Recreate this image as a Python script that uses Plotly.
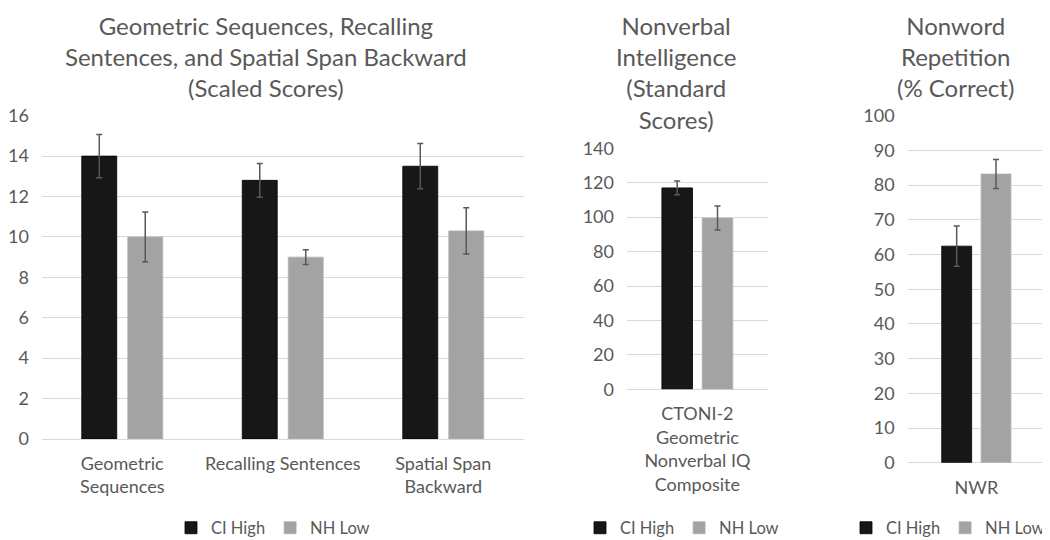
import plotly.graph_objects as go

# ---- data ----
groups = ["CI High", "NH Low"]

cats_scaled = ["Geometric<br>Sequences", "Recalling Sentences", "Spatial Span<br>Backward"]
ci_scaled = [14.0, 12.8, 13.5]
ci_scaled_err = [1.07, 0.83, 1.12]
nh_scaled = [10.0, 9.0, 10.3]
nh_scaled_err = [1.23, 0.37, 1.15]

cats_iq = ["CTONI-2<br>Geometric<br>Nonverbal IQ<br>Composite"]
ci_iq = [117.0]
ci_iq_err = [4.0]
nh_iq = [99.5]
nh_iq_err = [7.0]

cats_nwr = ["NWR"]
ci_nwr = [62.4]
ci_nwr_err = [5.8]
nh_nwr = [83.2]
nh_nwr_err = [4.2]

titles = [
    "Geometric Sequences, Recalling<br>Sentences, and Spatial Span Backward<br>(Scaled Scores)",
    "Nonverbal<br>Intelligence<br>(Standard<br>Scores)",
    "Nonword<br>Repetition<br>(% Correct)",
]

# ---- style ----
W, H = 1050, 540
OFF = 8  # page body margin in the browser
FONT = "Lato"
TXT = "#595959"
GRID = "#d9d9d9"
COL_CI = "#171717"
COL_NH = "#a3a3a3"

def px_x(p):
    return (p - OFF) / W

def px_y(p):
    return 1 - (p - OFF) / H

fig = go.Figure()

panels = [
    (cats_scaled, ci_scaled, ci_scaled_err, nh_scaled, nh_scaled_err, "x", "y", "legend"),
    (cats_iq, ci_iq, ci_iq_err, nh_iq, nh_iq_err, "x2", "y2", "legend2"),
    (cats_nwr, ci_nwr, ci_nwr_err, nh_nwr, nh_nwr_err, "x3", "y3", "legend3"),
]

for cats, ci, cie, nh, nhe, xa, ya, lg in panels:
    fig.add_trace(go.Bar(
        x=cats, y=ci, name=groups[0], xaxis=xa, yaxis=ya, legend=lg,
        marker=dict(color=COL_CI, line=dict(color="#000000", width=0.8)),
        error_y=dict(type="data", array=cie, color=TXT, thickness=1.5, width=3),
        hoverinfo="skip",
    ))
    fig.add_trace(go.Bar(
        x=cats, y=nh, name=groups[1], xaxis=xa, yaxis=ya, legend=lg,
        marker=dict(color=COL_NH, line=dict(color="#b3b3b3", width=0.8)),
        error_y=dict(type="data", array=nhe, color=TXT, thickness=1.5, width=3),
        hoverinfo="skip",
    ))

xtickfont = dict(family=FONT, size=18, color=TXT)
ytickfont = dict(family=FONT, size=18, color=TXT)

def xaxis(dom, anchor, n):
    return dict(domain=dom, anchor=anchor, type="category", range=[-0.5, n - 0.5],
                showgrid=False, showline=False, zeroline=False, ticks="",
                tickfont=xtickfont, ticklabelstandoff=12, fixedrange=True)

def yaxis(dom, anchor, rng, dt):
    return dict(domain=dom, anchor=anchor, range=rng, dtick=dt, showgrid=True,
                gridcolor=GRID, gridwidth=1.3, zeroline=True, zerolinecolor=GRID,
                zerolinewidth=1.3, showline=False, ticks="", tickfont=ytickfont,
                ticklabelstandoff=12, fixedrange=True)

legend_common = dict(orientation="h", yanchor="middle",
                     font=dict(family=FONT, size=16.5, color=TXT),
                     bgcolor="rgba(0,0,0,0)", itemwidth=30, itemclick=False)

fig.update_layout(
    width=W, height=H,
    margin=dict(l=0, r=0, t=0, b=0, pad=0, autoexpand=False),
    paper_bgcolor="white", plot_bgcolor="white",
    barmode="group", bargap=0.427, bargroupgap=0.24,
    font=dict(family=FONT, color=TXT),
    xaxis=xaxis([px_x(42), px_x(523.5)], "y", len(cats_scaled)),
    yaxis=yaxis([px_y(439), px_y(115.7)], "x", [0, 16], 2),
    xaxis2=xaxis([px_x(627), px_x(767.7)], "y2", len(cats_iq)),
    yaxis2=yaxis([px_y(389.3), px_y(148.3)], "x2", [0, 140], 20),
    xaxis3=xaxis([px_x(907.7), px_x(1045)], "y3", len(cats_nwr)),
    yaxis3=yaxis([px_y(462.7), px_y(115.7)], "x3", [0, 100], 10),
    legend=dict(x=px_x(171), xanchor="left", y=px_y(528), **legend_common),
    legend2=dict(x=px_x(580), xanchor="left", y=px_y(528), **legend_common),
    legend3=dict(x=px_x(1050), xanchor="right", y=px_y(528), **legend_common),
)

title_x = [266, 676, 955]
for t, cx in zip(titles, title_x):
    fig.add_annotation(text=t, x=px_x(cx), y=px_y(9), xref="paper", yref="paper",
                       xanchor="center", yanchor="top", showarrow=False,
                       font=dict(family=FONT, size=24, color=TXT), align="center")

fig.write_html("out.html")
